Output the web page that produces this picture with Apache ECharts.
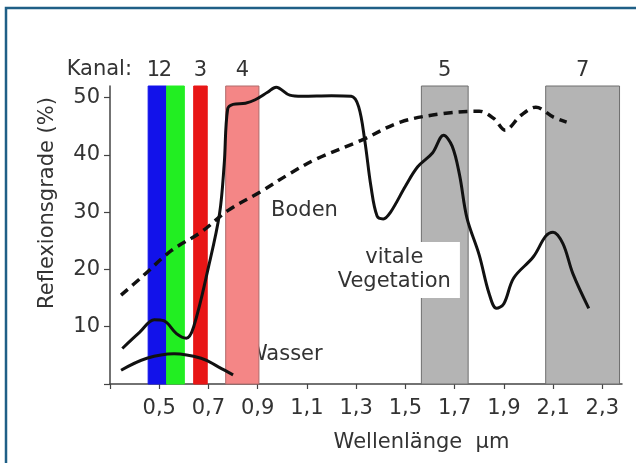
<!DOCTYPE html>
<html>
<head>
<meta charset="utf-8">
<script src="https://cdn.jsdelivr.net/npm/echarts@6/dist/echarts.min.js"></script>
<style>
  html, body { margin: 0; padding: 0; background: #fff; }
  #chart { width: 636px; height: 463px; }
</style>
</head>
<body>
<div id="chart"></div>
<script>
// Reflexionskurven: Vegetation, Boden, Wasser + Landsat-Kanäle
var vegX = [0.35, 0.42, 0.48, 0.52, 0.57, 0.61, 0.64, 0.70, 0.745, 0.764, 0.778, 0.80, 0.85, 0.89, 0.94, 0.975, 1.03, 1.08, 1.20, 1.28, 1.31, 1.335, 1.36, 1.385, 1.41, 1.44, 1.50, 1.55, 1.61, 1.655, 1.69, 1.72, 1.75, 1.80, 1.84, 1.87, 1.90, 1.94, 2.02, 2.07, 2.10, 2.14, 2.18, 2.245];
var vegY = [6.2, 9.0, 11.2, 11.0, 8.8, 8.0, 10.0, 20.4, 29.7, 38.4, 48.0, 48.8, 49.0, 49.6, 50.9, 51.8, 50.4, 50.2, 50.3, 50.2, 48.4, 42.5, 34.5, 29.3, 28.8, 30.0, 34.5, 37.9, 40.3, 43.4, 41.5, 36.5, 29.0, 22.5, 15.8, 13.2, 14.0, 18.5, 22.2, 25.8, 26.5, 24.5, 19.3, 13.2];

var soilX = [0.345, 0.43, 0.55, 0.67, 0.78, 0.91, 1.03, 1.14, 1.32, 1.48, 1.655, 1.80, 1.86, 1.905, 1.97, 2.03, 2.10, 2.155];
var soilY = [15.5, 18.7, 23.3, 26.5, 30.3, 33.5, 36.7, 39.3, 42.5, 45.7, 47.2, 47.6, 46.3, 44.3, 46.9, 48.3, 46.6, 45.7];

var waterX = [0.345, 0.45, 0.56, 0.67, 0.74, 0.80];
var waterY = [2.4, 4.5, 5.3, 4.5, 3.0, 1.6];

// Kanäle (µm)
var bandNames = ['1', '2', '3', '4', '5', '7'];
var bandStart = [0.455, 0.53, 0.64, 0.77, 1.565, 2.07];
var bandEnd = [0.53, 0.602, 0.695, 0.905, 1.755, 2.37];

// Beschriftungen im Diagramm
var noteText = ['Boden', 'Wasser', 'vitale\nVegetation'];
var noteX = [1.09, 1.01, 1.455];
var noteY = [30.3, 5.1, 19.9];

var xTickValues = [0.3, 0.5, 0.7, 0.9, 1.1, 1.3, 1.5, 1.7, 1.9, 2.1, 2.3];
var xLabelValues = [0.5, 0.7, 0.9, 1.1, 1.3, 1.5, 1.7, 1.9, 2.1, 2.3];
var yTickValues = [0, 10, 20, 30, 40, 50];
var yLabelValues = [10, 20, 30, 40, 50];

var FONT = 'DejaVu Sans';
var TXT = '#333';
var BAND_STYLES = [
    {fill: '#1212ea', border: '#1212ea', dx: -4},
    {fill: '#22ee22', border: '#22ee22', dx: -10},
    {fill: '#e81616', border: '#e81616', dx: 0},
    {fill: '#f48686', border: '#b06a6a', dx: 0},
    {fill: '#b4b4b4', border: '#6e6e6e', dx: 0},
    {fill: '#b4b4b4', border: '#6e6e6e', dx: 0}
];

function zip(xs, ys) {
    return xs.map(function(x, i) { return [x, ys[i]]; });
}

var bandAreas = bandNames.map(function(n, i) {
    var st = BAND_STYLES[i];
    return [{
        name: n,
        xAxis: bandStart[i],
        itemStyle: {color: st.fill, borderColor: st.border, borderWidth: 1, opacity: 1},
        label: {offset: [st.dx, 0]}
    }, {
        xAxis: bandEnd[i]
    }];
});

function note(i) {
    return {name: noteText[i], value: [noteX[i], noteY[i]]};
}

var noteLabel = {
    show: true, position: 'inside', color: TXT, fontSize: 21, fontFamily: FONT,
    lineHeight: 24, opacity: 1, textBorderWidth: 0,
    formatter: function(p) { return p.name; }
};

var chart = echarts.init(document.getElementById('chart'));
chart.setOption({
    animation: false,
    backgroundColor: '#fff',
    textStyle: {fontFamily: FONT},
    graphic: [{
        type: 'rect',
        shape: {x: 6, y: 8, width: 700, height: 520},
        style: {fill: 'none', stroke: '#1f5f86', lineWidth: 2.5},
        z: 100
    }, {
        type: 'text',
        x: 132, y: 70,
        style: {text: 'Kanal:', fill: TXT, font: '21px "DejaVu Sans"', align: 'right', verticalAlign: 'middle', textAlign: 'right', textVerticalAlign: 'middle'}
    }],
    grid: {left: 110, right: 14, top: 86, bottom: 79, containLabel: false},
    xAxis: {
        type: 'value',
        min: 0.3,
        max: 2.38,
        name: 'Wellenlänge  µm',
        nameLocation: 'middle',
        nameGap: 48,
        nameTextStyle: {color: TXT, fontSize: 21, fontFamily: FONT, padding: [0, 0, 0, 111]},
        axisLine: {onZero: false, lineStyle: {color: '#444', width: 1.5}},
        axisTick: {show: true, length: 5, customValues: xTickValues, lineStyle: {color: '#444', width: 1.2}},
        axisLabel: {
            customValues: xLabelValues,
            margin: 14,
            color: TXT, fontSize: 21, fontFamily: FONT,
            formatter: function(v) { return v.toFixed(1).replace('.', ','); }
        },
        splitLine: {show: false}
    },
    yAxis: {
        type: 'value',
        min: 0,
        max: 52,
        name: 'Reflexionsgrade (%)',
        nameLocation: 'middle',
        nameGap: 52,
        nameTextStyle: {color: TXT, fontSize: 21, fontFamily: FONT, padding: [0, 0, 0, 64]},
        axisLine: {show: true, lineStyle: {color: '#444', width: 1.5}},
        axisTick: {show: true, length: 6, customValues: yTickValues, lineStyle: {color: '#444', width: 1.2}},
        axisLabel: {
            customValues: yLabelValues,
            margin: 10,
            color: TXT, fontSize: 21, fontFamily: FONT
        },
        splitLine: {show: false}
    },
    series: [{
        // Kanäle als Flächen
        name: 'Kanal',
        type: 'line',
        data: [],
        silent: true,
        markArea: {
            silent: true,
            z: 1,
            label: {show: true, position: 'top', distance: 4, color: TXT, fontSize: 21, fontFamily: FONT,
                formatter: function(p) { return p.name; }},
            data: bandAreas
        }
    }, {
        // "Wasser" liegt unter dem Kanal 4
        type: 'scatter',
        z: 0,
        silent: true,
        symbolSize: 1,
        itemStyle: {color: 'rgba(0,0,0,0)', opacity: 1},
        label: noteLabel,
        data: [note(1)]
    }, {
        type: 'scatter',
        z: 2,
        silent: true,
        symbolSize: 1,
        itemStyle: {color: 'rgba(0,0,0,0)', opacity: 1},
        label: noteLabel,
        data: [note(0), {
            name: noteText[2],
            value: [noteX[2], noteY[2]],
            label: {backgroundColor: '#fff', padding: [4, 9]}
        }]
    }, {
        name: 'vitale Vegetation',
        type: 'line',
        z: 4,
        smooth: 0.35,
        showSymbol: false,
        lineStyle: {color: '#111', width: 3},
        data: zip(vegX, vegY)
    }, {
        name: 'Boden',
        type: 'line',
        z: 4,
        smooth: 0.35,
        showSymbol: false,
        lineStyle: {color: '#111', width: 3.5, type: [9, 6]},
        data: zip(soilX, soilY)
    }, {
        name: 'Wasser',
        type: 'line',
        z: 4,
        smooth: 0.4,
        showSymbol: false,
        lineStyle: {color: '#111', width: 3},
        data: zip(waterX, waterY)
    }]
});
</script>
</body>
</html>
